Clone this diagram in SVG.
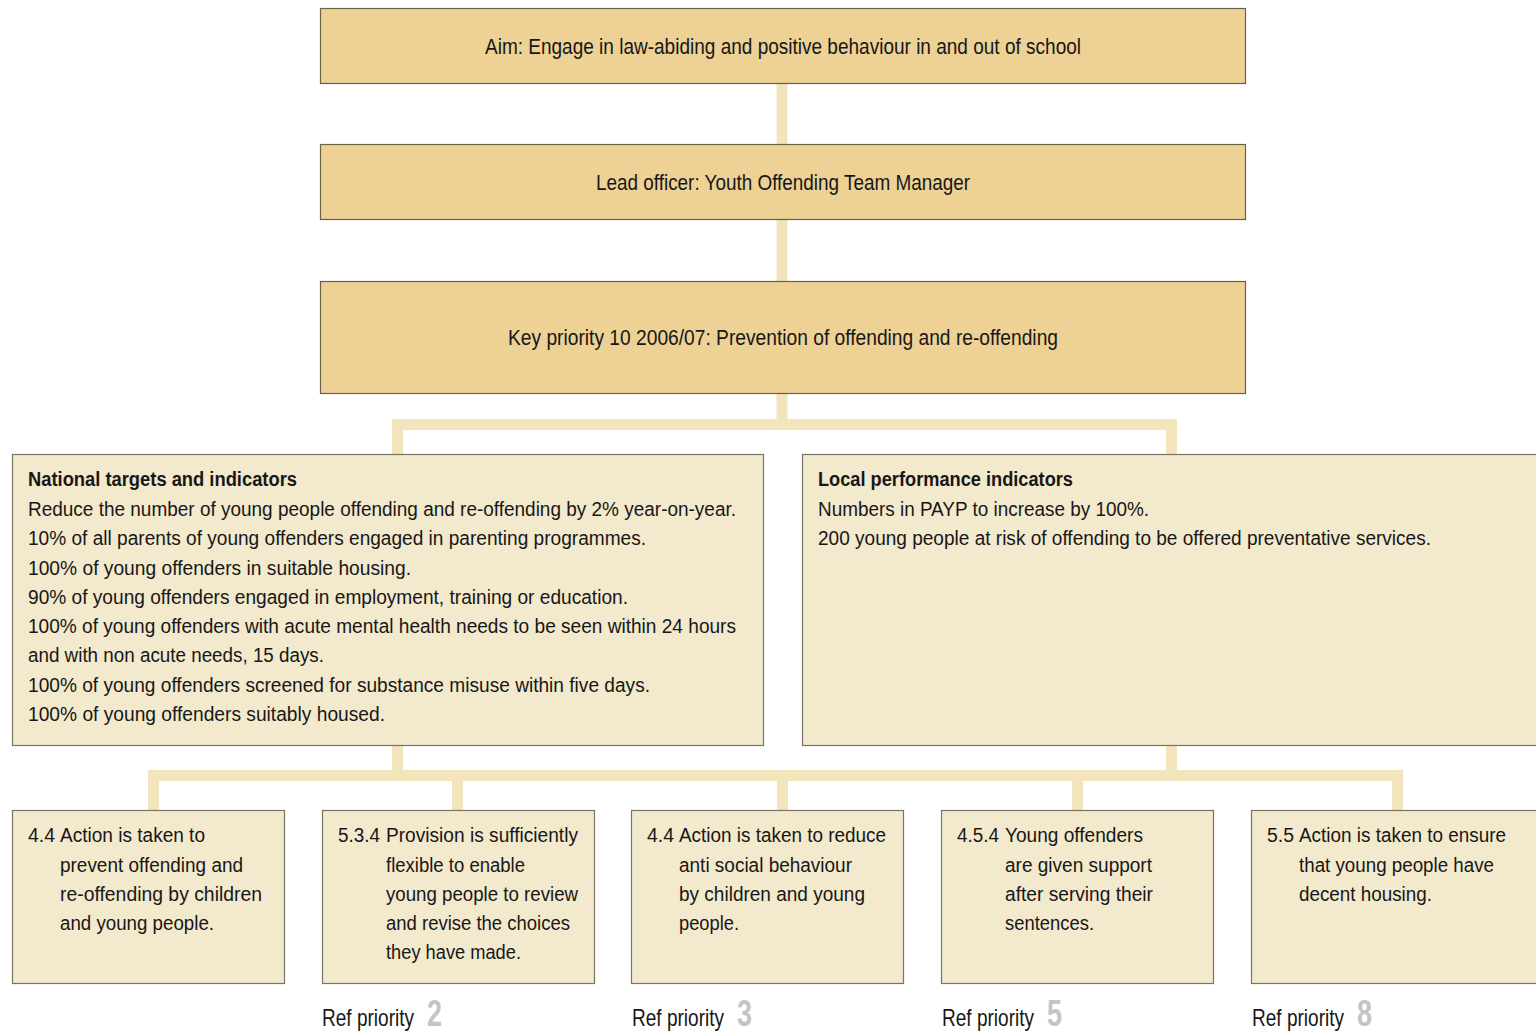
<svg xmlns="http://www.w3.org/2000/svg" width="1536" height="1031" viewBox="0 0 1536 1031">
  <style>
    .head { fill: #edd195; stroke: #6b6048; stroke-width: 1.2; }
    .box { fill: #f3e9cc; stroke: #7a7464; stroke-width: 1.2; }
    .link { stroke: #f2e4bb; stroke-width: 11; fill: none; stroke-linecap: butt; stroke-linejoin: miter; }
    text { font-family: "Liberation Sans", Arial, sans-serif; font-size: 20px; fill: #171717; }
    .t { font-size: 22px; text-anchor: middle; }
    .b { font-weight: bold; }
    .ref { font-size: 24px; }
    .num { font-size: 36px; font-weight: bold; fill: #c4c4c4; }
  </style>
  <rect width="1536" height="1031" fill="#ffffff"/>

  <!-- connectors -->
  <g id="connectors">
    <path class="link" d="M782 83 V144"/>
    <path class="link" d="M782 219 V281"/>
    <path class="link" d="M782 393 V424.5 M397.5 454 V424.5 H1171.5 V454"/>
    <path class="link" d="M397.5 745 V775.5 M1171.5 745 V775.5 M153.5 810 V775.5 H1397.5 V810 M457.5 775.5 V810 M782.5 775.5 V810 M1077.5 775.5 V810"/>
  </g>

  <g id="aim">
    <rect class="head" x="320.5" y="8.5" width="925" height="75"/>
    <text class="t" x="783" y="54" textLength="596" lengthAdjust="spacingAndGlyphs">Aim: Engage in law-abiding and positive behaviour in and out of school</text>
  </g>

  <g id="lead-officer">
    <rect class="head" x="320.5" y="144.5" width="925" height="75"/>
    <text class="t" x="783" y="190" textLength="374" lengthAdjust="spacingAndGlyphs">Lead officer: Youth Offending Team Manager</text>
  </g>

  <g id="key-priority">
    <rect class="head" x="320.5" y="281.5" width="925" height="112"/>
    <text class="t" x="783" y="345" textLength="550" lengthAdjust="spacingAndGlyphs">Key priority 10 2006/07: Prevention of offending and re-offending</text>
  </g>

  <g id="national">
    <rect class="box" x="12.5" y="454.5" width="751" height="291"/>
    <text class="b" x="28" y="486" textLength="269" lengthAdjust="spacingAndGlyphs">National targets and indicators</text>
    <text x="28" y="516" textLength="708" lengthAdjust="spacingAndGlyphs">Reduce the number of young people offending and re-offending by 2% year-on-year.</text>
    <text x="28" y="545" textLength="618" lengthAdjust="spacingAndGlyphs">10% of all parents of young offenders engaged in parenting programmes.</text>
    <text x="28" y="574.5" textLength="383" lengthAdjust="spacingAndGlyphs">100% of young offenders in suitable housing.</text>
    <text x="28" y="603.5" textLength="600" lengthAdjust="spacingAndGlyphs">90% of young offenders engaged in employment, training or education.</text>
    <text x="28" y="633" textLength="708" lengthAdjust="spacingAndGlyphs">100% of young offenders with acute mental health needs to be seen within 24 hours</text>
    <text x="28" y="662" textLength="296" lengthAdjust="spacingAndGlyphs">and with non acute needs, 15 days.</text>
    <text x="28" y="691.5" textLength="622" lengthAdjust="spacingAndGlyphs">100% of young offenders screened for substance misuse within five days.</text>
    <text x="28" y="721" textLength="357" lengthAdjust="spacingAndGlyphs">100% of young offenders suitably housed.</text>
  </g>

  <g id="local">
    <rect class="box" x="802.5" y="454.5" width="740" height="291"/>
    <text class="b" x="818" y="486" textLength="255" lengthAdjust="spacingAndGlyphs">Local performance indicators</text>
    <text x="818" y="516" textLength="331" lengthAdjust="spacingAndGlyphs">Numbers in PAYP to increase by 100%.</text>
    <text x="818" y="545" textLength="613" lengthAdjust="spacingAndGlyphs">200 young people at risk of offending to be offered preventative services.</text>
  </g>

  <g id="action-4-4-prevent">
    <rect class="box" x="12.5" y="810.5" width="272" height="173"/>
    <text x="28" y="842" textLength="27" lengthAdjust="spacingAndGlyphs">4.4</text>
    <text x="60" y="842" textLength="145" lengthAdjust="spacingAndGlyphs">Action is taken to</text>
    <text x="60" y="871.5" textLength="183" lengthAdjust="spacingAndGlyphs">prevent offending and</text>
    <text x="60" y="900.5" textLength="202" lengthAdjust="spacingAndGlyphs">re-offending by children</text>
    <text x="60" y="930" textLength="154" lengthAdjust="spacingAndGlyphs">and young people.</text>
  </g>

  <g id="provision-5-3-4">
    <rect class="box" x="322.5" y="810.5" width="272" height="173"/>
    <text x="338" y="842" textLength="42" lengthAdjust="spacingAndGlyphs">5.3.4</text>
    <text x="386" y="842" textLength="192" lengthAdjust="spacingAndGlyphs">Provision is sufficiently</text>
    <text x="386" y="871.5" textLength="139" lengthAdjust="spacingAndGlyphs">flexible to enable</text>
    <text x="386" y="900.5" textLength="192" lengthAdjust="spacingAndGlyphs">young people to review</text>
    <text x="386" y="930" textLength="184" lengthAdjust="spacingAndGlyphs">and revise the choices</text>
    <text x="386" y="959" textLength="135" lengthAdjust="spacingAndGlyphs">they have made.</text>
    <text y="1026"><tspan class="ref" x="322" textLength="92" lengthAdjust="spacingAndGlyphs">Ref priority</tspan><tspan class="num" x="427" textLength="15" lengthAdjust="spacingAndGlyphs">2</tspan></text>
  </g>

  <g id="action-4-4-reduce">
    <rect class="box" x="631.5" y="810.5" width="272" height="173"/>
    <text x="647" y="842" textLength="27" lengthAdjust="spacingAndGlyphs">4.4</text>
    <text x="679" y="842" textLength="207" lengthAdjust="spacingAndGlyphs">Action is taken to reduce</text>
    <text x="679" y="871.5" textLength="173" lengthAdjust="spacingAndGlyphs">anti social behaviour</text>
    <text x="679" y="900.5" textLength="186" lengthAdjust="spacingAndGlyphs">by children and young</text>
    <text x="679" y="930" textLength="60" lengthAdjust="spacingAndGlyphs">people.</text>
    <text y="1026"><tspan class="ref" x="632" textLength="92" lengthAdjust="spacingAndGlyphs">Ref priority</tspan><tspan class="num" x="737" textLength="15" lengthAdjust="spacingAndGlyphs">3</tspan></text>
  </g>

  <g id="young-offenders-4-5-4">
    <rect class="box" x="941.5" y="810.5" width="272" height="173"/>
    <text x="957" y="842" textLength="42" lengthAdjust="spacingAndGlyphs">4.5.4</text>
    <text x="1005" y="842" textLength="138" lengthAdjust="spacingAndGlyphs">Young offenders</text>
    <text x="1005" y="871.5" textLength="147" lengthAdjust="spacingAndGlyphs">are given support</text>
    <text x="1005" y="900.5" textLength="148" lengthAdjust="spacingAndGlyphs">after serving their</text>
    <text x="1005" y="930" textLength="89" lengthAdjust="spacingAndGlyphs">sentences.</text>
    <text y="1026"><tspan class="ref" x="942" textLength="92" lengthAdjust="spacingAndGlyphs">Ref priority</tspan><tspan class="num" x="1047" textLength="15" lengthAdjust="spacingAndGlyphs">5</tspan></text>
  </g>

  <g id="housing-5-5">
    <rect class="box" x="1251.5" y="810.5" width="290" height="173"/>
    <text x="1267" y="842" textLength="27" lengthAdjust="spacingAndGlyphs">5.5</text>
    <text x="1299" y="842" textLength="207" lengthAdjust="spacingAndGlyphs">Action is taken to ensure</text>
    <text x="1299" y="871.5" textLength="195" lengthAdjust="spacingAndGlyphs">that young people have</text>
    <text x="1299" y="900.5" textLength="133" lengthAdjust="spacingAndGlyphs">decent housing.</text>
    <text y="1026"><tspan class="ref" x="1252" textLength="92" lengthAdjust="spacingAndGlyphs">Ref priority</tspan><tspan class="num" x="1357" textLength="15" lengthAdjust="spacingAndGlyphs">8</tspan></text>
  </g>
</svg>
